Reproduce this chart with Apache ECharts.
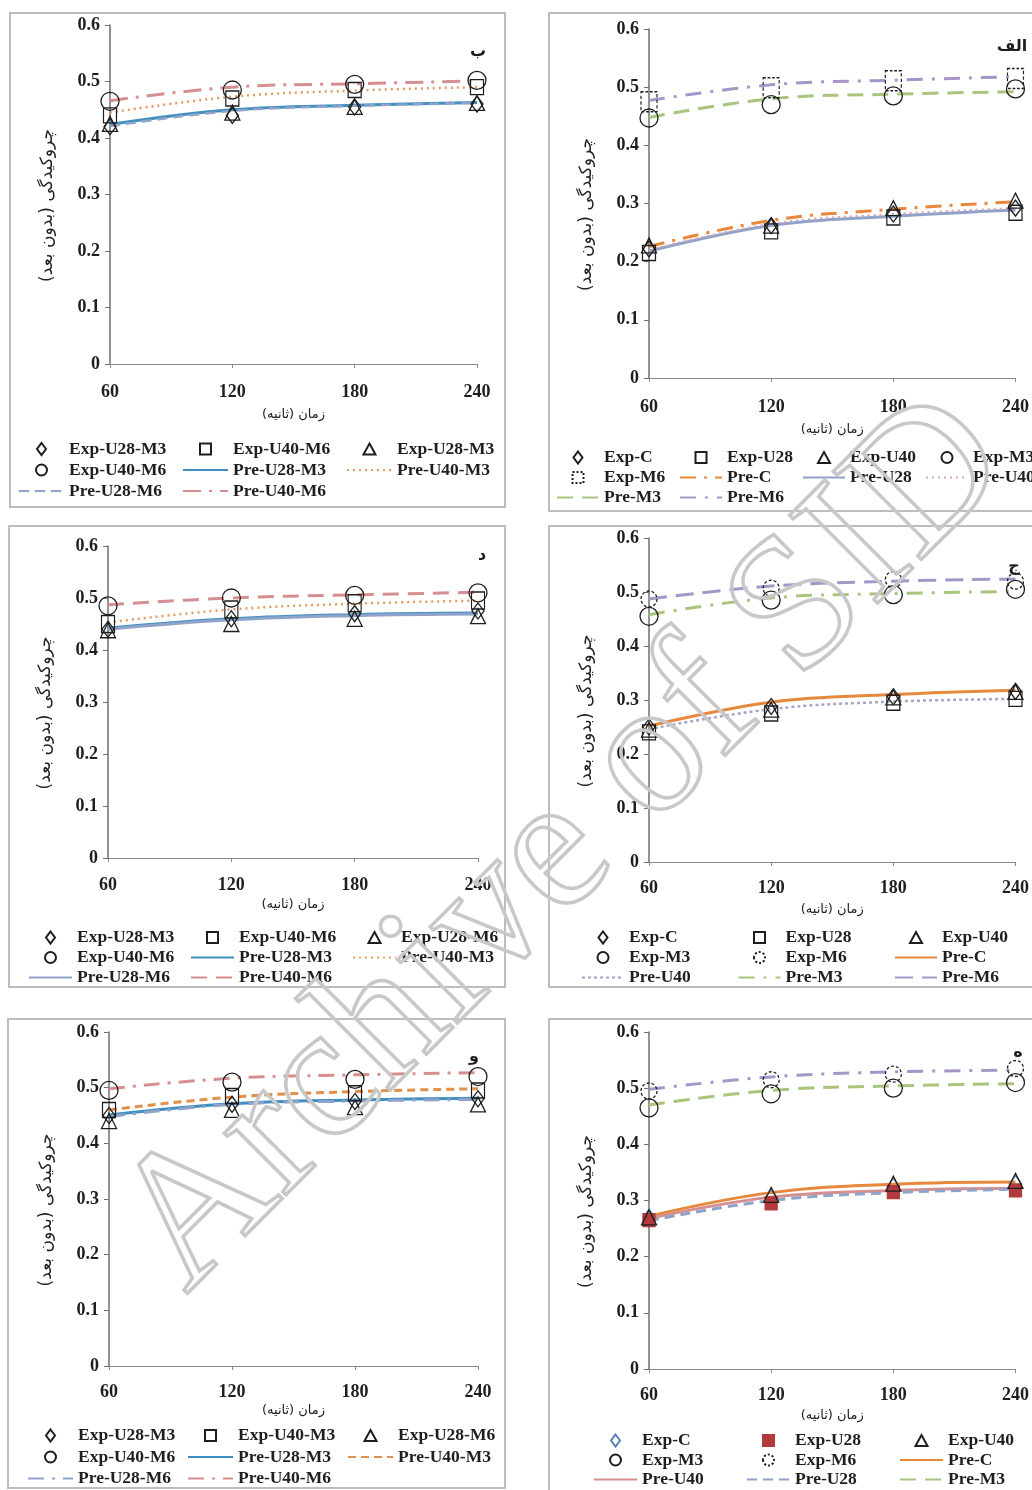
<!DOCTYPE html>
<html><head><meta charset="utf-8">
<script src="https://cdn.jsdelivr.net/npm/echarts@6/dist/echarts.min.js"></script>
<style>html,body{margin:0;padding:0;background:#fff}#c{width:1032px;height:1490px}</style>
</head><body><div id="c"></div>
<script>
// ---------- shared axes ----------
const timeSec = [60, 120, 180, 240];
const yTickLabels = ['0', '0.1', '0.2', '0.3', '0.4', '0.5', '0.6'];
const xAxisTitle = '\u200Fزمان (ثانیه)\u200F';
const yAxisTitle = '\u200Fچروکیدگی (بدون بعد)\u200F';

// ---------- panel الف (top right) ----------
const alef_ExpC   = [0.222, 0.262, 0.282, 0.292];
const alef_ExpU28 = [0.215, 0.252, 0.276, 0.284];
const alef_ExpU40 = [0.228, 0.262, 0.292, 0.305];
const alef_ExpM3  = [0.447, 0.470, 0.485, 0.497];
const alef_ExpM6  = [0.475, 0.499, 0.511, 0.515];
const alef_PreC   = [0.226, 0.271, 0.290, 0.303];
const alef_PreU28 = [0.218, 0.262, 0.278, 0.289];
const alef_PreU40 = [0.220, 0.265, 0.282, 0.292];
const alef_PreM3  = [0.448, 0.480, 0.488, 0.492];
const alef_PreM6  = [0.477, 0.504, 0.512, 0.518];

// ---------- panel ب (top left) ----------
const be_ExpU28M3a = [0.420, 0.440, 0.455, 0.460];
const be_ExpU40M6a = [0.440, 0.470, 0.485, 0.490];
const be_ExpU28M3b = [0.425, 0.445, 0.455, 0.462];
const be_ExpU40M6b = [0.465, 0.485, 0.495, 0.502];
const be_PreU28M3  = [0.424, 0.450, 0.458, 0.463];
const be_PreU40M3  = [0.445, 0.473, 0.484, 0.490];
const be_PreU28M6  = [0.421, 0.448, 0.457, 0.462];
const be_PreU40M6  = [0.466, 0.490, 0.496, 0.501];

// ---------- panel ج (middle right) ----------
const jim_ExpC   = [0.250, 0.288, 0.306, 0.316];
const jim_ExpU28 = [0.240, 0.275, 0.295, 0.302];
const jim_ExpU40 = [0.245, 0.282, 0.305, 0.315];
const jim_ExpM3  = [0.455, 0.485, 0.495, 0.505];
const jim_ExpM6  = [0.487, 0.507, 0.523, 0.520];
const jim_PreC   = [0.252, 0.296, 0.310, 0.318];
const jim_PreU40 = [0.246, 0.283, 0.297, 0.302];
const jim_PreM3  = [0.458, 0.489, 0.497, 0.501];
const jim_PreM6  = [0.487, 0.511, 0.520, 0.524];

// ---------- panel د (middle left) ----------
const dal_ExpU28M3  = [0.440, 0.460, 0.470, 0.475];
const dal_ExpU40M6a = [0.450, 0.478, 0.490, 0.495];
const dal_ExpU28M6  = [0.438, 0.450, 0.460, 0.465];
const dal_ExpU40M6b = [0.485, 0.500, 0.505, 0.510];
const dal_PreU28M3  = [0.442, 0.460, 0.468, 0.471];
const dal_PreU40M3  = [0.453, 0.478, 0.489, 0.495];
const dal_PreU28M6  = [0.440, 0.458, 0.466, 0.469];
const dal_PreU40M6  = [0.487, 0.500, 0.506, 0.511];

// ---------- panel ه (bottom right) ----------
const he_ExpC   = [0.270, 0.305, 0.325, 0.330];
const he_ExpU28 = [0.265, 0.295, 0.315, 0.318];
const he_ExpU40 = [0.270, 0.310, 0.330, 0.335];
const he_ExpM3  = [0.465, 0.490, 0.500, 0.510];
const he_ExpM6  = [0.495, 0.515, 0.525, 0.535];
const he_PreC   = [0.272, 0.314, 0.329, 0.333];
const he_PreU40 = [0.268, 0.306, 0.318, 0.322];
const he_PreU28 = [0.264, 0.300, 0.314, 0.320];
const he_PreM3  = [0.470, 0.496, 0.504, 0.508];
const he_PreM6  = [0.498, 0.520, 0.529, 0.532];

// ---------- panel و (bottom left) ----------
const vav_ExpU28M3 = [0.450, 0.470, 0.475, 0.480];
const vav_ExpU40M3 = [0.460, 0.485, 0.490, 0.495];
const vav_ExpU28M6 = [0.440, 0.460, 0.465, 0.470];
const vav_ExpU40M6 = [0.495, 0.510, 0.515, 0.520];
const vav_PreU28M3 = [0.451, 0.471, 0.478, 0.481];
const vav_PreU40M3 = [0.460, 0.483, 0.493, 0.498];
const vav_PreU28M6 = [0.448, 0.470, 0.476, 0.479];
const vav_PreU40M6 = [0.498, 0.517, 0.523, 0.527];

// ---------- styling ----------
const BLUE = '#3f8fc0', BLUEGRAY = '#8fa3ca', ORANGE = '#e8883c', ORANGE_L = '#e39a62',
      PINK = '#d68f90', GREEN = '#a9c57d', PURPLE = '#a596c8', INK = '#1e1e1e';
const SERIF = '"Liberation Serif", "Times New Roman", serif';
const ARABIC = '"DejaVu Sans", sans-serif';
const DASHDOT = [16, 8, 3, 8];

// legend icon paths drawn in a box matching the legend item (iw x 12) so nothing gets stretched
function iconPath(shape, iw) {
  const c = iw / 2;
  const pad = 'M0,0M' + iw + ',12';
  let body;
  if (shape === 'diamond') body = `M${c},0L${c + 4.5},6L${c},12L${c - 4.5},6Z`;
  else if (shape === 'rect') body = `M${c - 5.5},0.5H${c + 5.5}V11.5H${c - 5.5}Z`;
  else if (shape === 'triangle') body = `M${c},0.5L${c + 6},11.5H${c - 6}Z`;
  else body = `M${c - 5.5},6a5.5,5.5 0 1,0 11,0a5.5,5.5 0 1,0 -11,0Z`;
  return 'path://' + pad + body;
}

function E(name, data, symbol, size, o) {
  o = o || {};
  return { kind: 'exp', name, data, symbol, size, fill: o.fill || 'rgba(0,0,0,0)',
           border: o.border || INK, dashed: !!o.dashed, legend: o.legend !== false };
}
function P(name, data, color, dash, width, o) {
  o = o || {};
  return { kind: 'pre', name, data, color, dash, width, legend: o.legend !== false };
}

const panels = [
  { grid: {left: 110, top: 25, width: 367, height: 339}, box: [10, 13, 495, 494],
    tag: ['ب', 478, 52], xMargin: 19, xNameGap: 44, yNameGap: 54,
    leg: {left: 18, top: 440, iw: 45, pitch: 163, cols: 3, row: 20},
    series: [
      E('Exp-U28-M3', be_ExpU28M3a, 'diamond', [12, 16]),
      E('Exp-U40-M6', be_ExpU40M6a, 'rect', [13, 15]),
      E('Exp-U28-M3', be_ExpU28M3b, 'triangle', 15),
      E('Exp-U40-M6', be_ExpU40M6b, 'circle', 18),
      P('Pre-U28-M3', be_PreU28M3, BLUE, 'solid', 3),
      P('Pre-U40-M3', be_PreU40M3, ORANGE_L, [2, 4], 2.5),
      P('Pre-U28-M6', be_PreU28M6, BLUEGRAY, [10, 6], 2.5),
      P('Pre-U40-M6', be_PreU40M6, PINK, [18, 8, 3, 8], 3)
    ] },
  { grid: {left: 649, top: 29, width: 368, height: 349}, box: [549, 13, 500, 498],
    tag: ['الف', 1012, 47], xMargin: 20, xNameGap: 45, yNameGap: 54,
    leg: {left: 556, top: 448.5, iw: 42, pitch: 122, cols: 4, row: 19},
    series: [
      E('Exp-C', alef_ExpC, 'diamond', [12, 16]),
      E('Exp-U28', alef_ExpU28, 'rect', [13, 15]),
      E('Exp-U40', alef_ExpU40, 'triangle', 15),
      E('Exp-M3', alef_ExpM3, 'circle', 18),
      E('Exp-M6', alef_ExpM6, 'rect', [16, 20], {dashed: true}),
      P('Pre-C', alef_PreC, ORANGE, DASHDOT, 3),
      P('Pre-U28', alef_PreU28, BLUEGRAY, 'solid', 3),
      P('Pre-U40', alef_PreU40, '#d9a3aa', [2, 4], 2),
      P('Pre-M3', alef_PreM3, GREEN, [16, 9], 3),
      P('Pre-M6', alef_PreM6, PURPLE, [16, 9, 3, 9], 3)
    ] },
  { grid: {left: 108, top: 546, width: 370, height: 312}, box: [9, 526, 496, 461],
    tag: ['د', 482, 556], xMargin: 18, xNameGap: 40, yNameGap: 54,
    leg: {left: 28, top: 928.5, iw: 43, pitch: 161, cols: 3, row: 19},
    series: [
      E('Exp-U28-M3', dal_ExpU28M3, 'diamond', [12, 16]),
      E('Exp-U40-M6', dal_ExpU40M6a, 'rect', [13, 17]),
      E('Exp-U28-M6', dal_ExpU28M6, 'triangle', 15),
      E('Exp-U40-M6', dal_ExpU40M6b, 'circle', 18),
      P('Pre-U28-M3', dal_PreU28M3, BLUE, 'solid', 3),
      P('Pre-U40-M3', dal_PreU40M3, ORANGE_L, [2, 4], 2.5),
      P('Pre-U28-M6', dal_PreU28M6, BLUEGRAY, 'solid', 3),
      P('Pre-U40-M6', dal_PreU40M6, PINK, [16, 9], 3)
    ] },
  { grid: {left: 649, top: 538, width: 368, height: 324}, box: [549, 526, 500, 461],
    tag: ['ج', 1014, 567], xMargin: 17, xNameGap: 41, yNameGap: 54,
    leg: {left: 581, top: 928.5, iw: 42, pitch: 155.5, cols: 3, row: 19},
    series: [
      E('Exp-C', jim_ExpC, 'diamond', [12, 16]),
      E('Exp-U28', jim_ExpU28, 'rect', [13, 15]),
      E('Exp-U40', jim_ExpU40, 'triangle', 15),
      E('Exp-M3', jim_ExpM3, 'circle', 18),
      E('Exp-M6', jim_ExpM6, 'circle', 16, {dashed: true}),
      P('Pre-C', jim_PreC, ORANGE, 'solid', 3),
      P('Pre-U40', jim_PreU40, '#a8a4c4', [3, 3], 2.5),
      P('Pre-M3', jim_PreM3, GREEN, [16, 9, 3, 9], 3),
      P('Pre-M6', jim_PreM6, PURPLE, [18, 9], 3)
    ] },
  { grid: {left: 109, top: 1032, width: 369, height: 334}, box: [8, 1019, 497, 469],
    tag: ['و', 474, 1057], xMargin: 17, xNameGap: 38, yNameGap: 54,
    leg: {left: 27, top: 1426.5, iw: 45, pitch: 159, cols: 3, row: 20.5},
    series: [
      E('Exp-U28-M3', vav_ExpU28M3, 'diamond', [12, 16]),
      E('Exp-U40-M3', vav_ExpU40M3, 'rect', [13, 15]),
      E('Exp-U28-M6', vav_ExpU28M6, 'triangle', 15),
      E('Exp-U40-M6', vav_ExpU40M6, 'circle', 18),
      P('Pre-U28-M3', vav_PreU28M3, BLUE, 'solid', 3),
      P('Pre-U40-M3', vav_PreU40M3, '#e0904a', [8, 5], 3),
      P('Pre-U28-M6', vav_PreU28M6, BLUEGRAY, DASHDOT, 3),
      P('Pre-U40-M6', vav_PreU40M6, PINK, DASHDOT, 3)
    ] },
  { grid: {left: 649, top: 1032, width: 368, height: 337}, box: [549, 1019, 500, 490],
    tag: ['ه', 1018, 1053], xMargin: 17, xNameGap: 40, yNameGap: 54,
    leg: {left: 593, top: 1431.5, iw: 43, pitch: 152, cols: 3, row: 18.5},
    series: [
      E('Exp-C', he_ExpC, 'diamond', [12, 16], {border: '#5b82b5'}),
      E('Exp-U28', he_ExpU28, 'rect', [12, 13], {fill: '#b23a3c', border: '#b23a3c'}),
      E('Exp-U40', he_ExpU40, 'triangle', 15),
      E('Exp-M3', he_ExpM3, 'circle', 18),
      E('Exp-M6', he_ExpM6, 'circle', 16, {dashed: true}),
      P('Pre-C', he_PreC, ORANGE, 'solid', 3),
      P('Pre-U40', he_PreU40, PINK, 'solid', 3),
      P('Pre-U28', he_PreU28, BLUEGRAY, [10, 6], 3),
      P('Pre-M3', he_PreM3, GREEN, [16, 9], 3),
      P('Pre-M6', he_PreM6, PURPLE, [16, 9, 3, 9], 3, {legend: false})
    ] }
];

// ---------- build option ----------
const grids = [], xAxes = [], yAxes = [], series = [], legends = [], graphics = [];
let uid = 0;
panels.forEach((p, pi) => {
  grids.push(Object.assign({}, p.grid));
  xAxes.push({
    type: 'value', gridIndex: pi, min: 60, max: 240, interval: 60,
    name: xAxisTitle, nameLocation: 'middle', nameGap: p.xNameGap,
    nameTextStyle: {fontFamily: ARABIC, fontSize: 13, color: '#222'},
    axisLine: {show: true, onZero: false, lineStyle: {color: '#8a8a8a', width: 1.2}},
    axisTick: {show: true, length: 4, lineStyle: {color: '#8a8a8a'}},
    axisLabel: {margin: p.xMargin, fontFamily: SERIF, fontWeight: 'bold', fontSize: 18, color: INK},
    splitLine: {show: false}
  });
  yAxes.push({
    type: 'value', gridIndex: pi, min: 0, max: 0.6, interval: 0.1,
    name: yAxisTitle, nameLocation: 'middle', nameGap: p.yNameGap,
    nameTextStyle: {fontFamily: ARABIC, fontSize: 17, color: '#222', padding: [0, 22, 0, 0]},
    axisLine: {show: true, lineStyle: {color: '#6f6f6f', width: 1.5}},
    axisTick: {show: true, length: 5, lineStyle: {color: '#6f6f6f'}},
    axisLabel: {margin: 10, fontFamily: SERIF, fontWeight: 'bold', fontSize: 18, color: INK,
                formatter: v => yTickLabels[Math.round(v * 10)]},
    splitLine: {show: false}
  });
  const legendData = [];
  const L = p.leg;
  p.series.forEach(s => {
    uid++;
    const nm = s.name + '\u200B'.repeat(uid);
    if (s.kind === 'exp') {
      if (s.legend) {
        const item = {name: nm, icon: iconPath(s.symbol, L.iw)};
        if (s.dashed) item.itemStyle = {borderType: [2, 2]};
        legendData.push(item);
      }
      series.push({
        type: 'scatter', name: nm, xAxisIndex: pi, yAxisIndex: pi, z: 4,
        symbol: s.symbol, symbolSize: s.size,
        data: s.data.map((v, i) => [timeSec[i], v]),
        itemStyle: {color: s.fill, borderColor: s.border, borderWidth: 1.3,
                    borderType: s.dashed ? [3, 2] : 'solid', opacity: 1}
      });
    } else {
      if (s.legend) legendData.push({name: nm, itemStyle: {opacity: 0}});
      series.push({
        type: 'line', name: nm, xAxisIndex: pi, yAxisIndex: pi, z: 3,
        smooth: 0.4, symbol: 'none', showSymbol: false,
        data: s.data.map((v, i) => [timeSec[i], v]),
        itemStyle: {color: s.color},
        lineStyle: {color: s.color, width: s.width, type: s.dash}
      });
    }
  });
  const lh = 17, gap = L.row - lh;
  legends.push({
    data: legendData, left: L.left, top: L.top, width: (L.cols + 0.5) * L.pitch,
    orient: 'horizontal', padding: 0, itemGap: gap, itemWidth: L.iw, itemHeight: 12,
    selectedMode: false, symbolKeepAspect: true,
    formatter: n => n.replace(/\u200B/g, ''),
    textStyle: {fontFamily: SERIF, fontWeight: 'bold', fontSize: 17.5, color: INK,
                lineHeight: lh, width: L.pitch - L.iw - 5 - gap}
  });
  graphics.push({
    type: 'rect', z: 0, silent: true,
    shape: {x: p.box[0], y: p.box[1], width: p.box[2], height: p.box[3]},
    style: {fill: 'none', stroke: '#bdbdbd', lineWidth: 2}
  });
  graphics.push({
    type: 'text', z: 5, x: p.tag[1], y: p.tag[2],
    style: {text: p.tag[0], font: 'bold 16px "DejaVu Sans"', fill: INK, align: 'center', verticalAlign: 'middle'}
  });
});

// watermark
graphics.push({
  type: 'text', z: 100, silent: true, x: 565, y: 845, rotation: Math.PI / 4,
  style: {text: 'Archive of SID', font: '190px "Liberation Serif"', fill: 'rgba(255,255,255,0)',
          stroke: '#c8c8c8', lineWidth: 3.5, align: 'center', verticalAlign: 'middle'}
});

const chart = echarts.init(document.getElementById('c'), null, {renderer: 'canvas'});
chart.setOption({
  backgroundColor: '#fff', animation: false,
  grid: grids, xAxis: xAxes, yAxis: yAxes, series, legend: legends, graphic: graphics
});
</script></body></html>
